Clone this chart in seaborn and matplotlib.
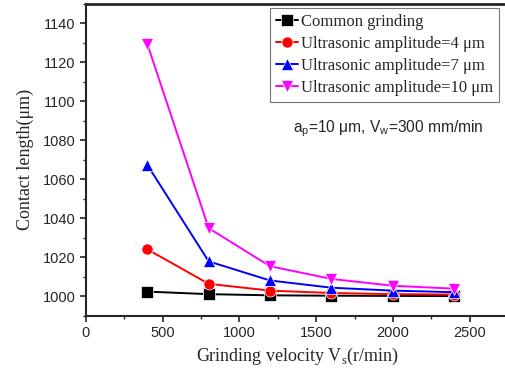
import matplotlib
matplotlib.use("Agg")
import matplotlib.pyplot as plt
import seaborn as sns
import pandas as pd
from matplotlib.ticker import MultipleLocator

velocity = [400, 800, 1200, 1600, 2000, 2400]
common = [1002.5, 1001.2, 1000.6, 1000.4, 1000.3, 1000.2]
amp4 = [1024.2, 1006.5, 1003.0, 1001.8, 1001.2, 1001.0]
amp7 = [1067.5, 1018.0, 1008.2, 1004.5, 1003.0, 1002.2]
amp10 = [1129.5, 1035.0, 1015.5, 1009.0, 1005.5, 1004.0]

series_names = ["Common grinding", "Ultrasonic amplitude=4 \u03bcm",
                "Ultrasonic amplitude=7 \u03bcm", "Ultrasonic amplitude=10 \u03bcm"]
rows = []
for name, vals in zip(series_names, [common, amp4, amp7, amp10]):
    for v, c in zip(velocity, vals):
        rows.append({"Vs": v, "L": c, "series": name})
df = pd.DataFrame(rows)

sns.set_style("ticks")
plt.rcParams['font.family'] = ['Liberation Sans', 'DejaVu Sans']

fig = plt.figure(figsize=(5.05, 3.78), dpi=100)
ax = fig.add_axes([0.170, 0.164, 0.836, 0.826])

palette = {series_names[0]: "black", series_names[1]: "red",
           series_names[2]: "blue", series_names[3]: "magenta"}
markers = {series_names[0]: "s", series_names[1]: "o",
           series_names[2]: "^", series_names[3]: "v"}

sns.lineplot(data=df, x="Vs", y="L", hue="series", style="series",
             palette=palette, markers=markers, dashes=False,
             markersize=8, linewidth=1.4, markeredgewidth=0.5,
             ax=ax)

ax.set_xlim(0, 2750)
ax.set_ylim(990, 1150)
ax.xaxis.set_major_locator(MultipleLocator(500))
ax.xaxis.set_minor_locator(MultipleLocator(250))
ax.yaxis.set_minor_locator(MultipleLocator(10))
ax.set_yticks([1000, 1020, 1040, 1060, 1080, 1100, 1120, 1140])
ax.tick_params(axis='both', which='major', labelsize=10.5, length=4, width=1.2, direction='out')
ax.tick_params(axis='both', which='minor', length=2.5, width=1.0, direction='out')

for side in ['left', 'bottom']:
    ax.spines[side].set_linewidth(1.5)
ax.spines['top'].set_linewidth(2.0)
ax.spines['right'].set_visible(False)

ax.set_xlabel("Grinding velocity V$_\\mathregular{s}$(r/min)", family=['Liberation Serif'], fontsize=13)
ax.set_ylabel("Contact length(\u03bcm)", family=['Liberation Serif'], fontsize=13, labelpad=6)

leg = ax.legend(loc='upper left', bbox_to_anchor=(0.437, 0.985), frameon=True, fancybox=False,
                prop={'family': 'Liberation Serif', 'size': 12}, handlelength=1.3,
                handletextpad=0.2, borderpad=0.35, labelspacing=0.36, borderaxespad=0)
leg.get_frame().set_edgecolor('#555555')
leg.get_frame().set_linewidth(0.8)

ax.text(0.49, 0.60, "a$_\\mathregular{p}$=10 \u03bcm, V$_\\mathregular{w}$=300 mm/min",
        transform=ax.transAxes, fontsize=11.2, ha='left', va='center')

fig.savefig("out.png", dpi=100)
